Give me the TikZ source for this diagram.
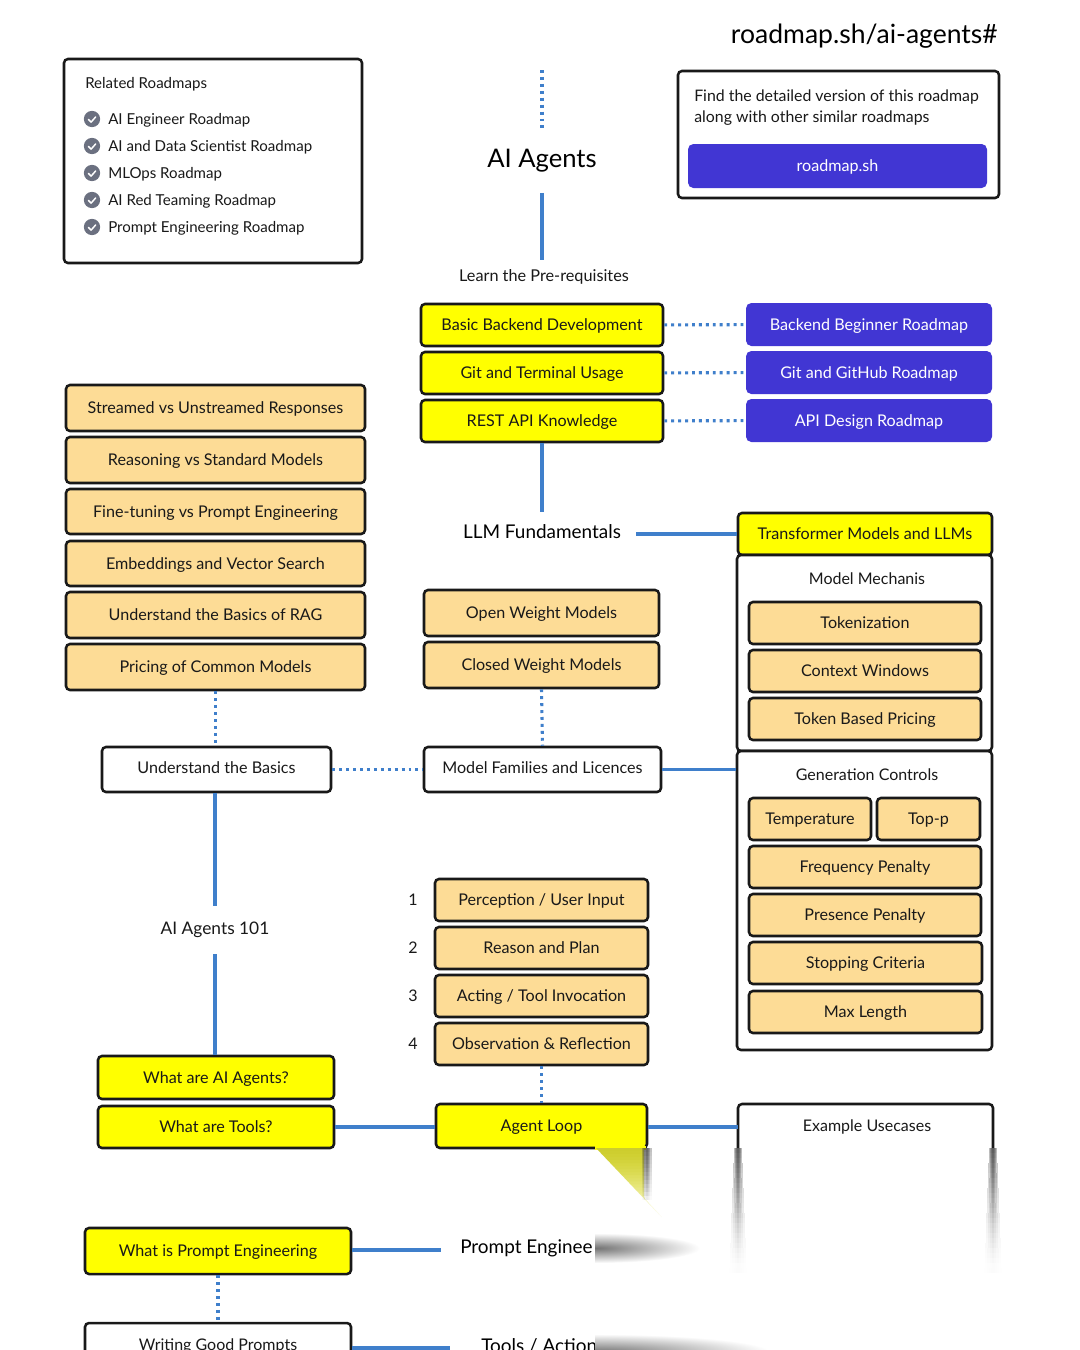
\documentclass[tikz,border=0pt]{standalone}
\usepackage{fontspec}
\usetikzlibrary{calc}
\setmainfont{Lato}
\definecolor{ylw}{HTML}{FFFF00}
\definecolor{ora}{HTML}{FDDC96}
\definecolor{pur}{HTML}{4136D3}
\definecolor{lnk}{HTML}{3F7FCB}
\definecolor{chk}{HTML}{6B7080}
\tikzset{x=0.75pt,y=-0.75pt,
  bx/.style={draw=black!90,line width=1.9pt,rounded corners=3pt,align=center,inner sep=0pt,font=\fontsize{12.1pt}{14pt}\selectfont,text=black!90},
  yb/.style={bx,fill=ylw},
  ob/.style={bx,fill=ora},
  wb/.style={bx,fill=white},
  pb/.style={rounded corners=4pt,fill=pur,text=white,inner sep=0pt,font=\fontsize{12.1pt}{14pt}\selectfont},
  solidl/.style={draw=lnk,line width=2.3pt},
  dotl/.style={draw=lnk,line width=2.3pt,dash pattern=on 2.2pt off 3pt},
  plain/.style={font=\fontsize{12pt}{14pt}\selectfont,text=black!90,inner sep=0pt},
  bigt/.style={font=\fontsize{14.2pt}{16pt}\selectfont,text=black,inner sep=0pt},
  hugeT/.style={font=\fontsize{19.9pt}{22pt}\selectfont,text=black,inner sep=0pt},
  itemt/.style={plain,font=\fontsize{11.3pt}{14pt}\selectfont,anchor=west},
  ticki/.style={circle,fill=chk,minimum size=12.2pt,inner sep=0pt},
}
\newcommand{\rb}[7]{% style,name,x1,y1,x2,y2,text
  \pgfmathsetmacro{\wpx}{(#5-#3)*0.75}\pgfmathsetmacro{\hpx}{(#6-#4)*0.75}
  \node[#1,minimum width=\wpx pt,minimum height=\hpx pt] (#2) at ({(#3+#5)/2},{(#4+#6)/2}) {\raisebox{-0.36em}[0pt][0pt]{#7}};}
\begin{document}
\begin{tikzpicture}
\useasboundingbox[fill=white] (0,0) rectangle (1080,1350);
\clip (0,0) rectangle (1080,1350);
% top right
\node[hugeT,anchor=east] (url) at (998,36) {roadmap.sh/ai-agents\#};
\rb{wb}{relbox}{64}{59}{362}{263}{}
\node[itemt] (rel) at (85,84) {Related Roadmaps};
\foreach \n/\yy/\t in {a/119/AI Engineer Roadmap,b/146/AI and Data Scientist Roadmap,c/173/MLOps Roadmap,d/200/AI Red Teaming Roadmap,e/227/Prompt Engineering Roadmap}{
  \node[ticki] (i\n) at (92,\yy) {};
  \draw[white,line width=1.1pt,line cap=round,line join=round] ($(i\n.center)+(-3.5,0.5)$) -- ++(2.6,2.6) -- ++(4.6,-5.2);
  \node[itemt] (t\n) at (108,\yy+1) {\t};
}
\rb{wb}{findbox}{678}{71}{999}{198}{}
\node[plain,anchor=west,align=left,font=\fontsize{11.9pt}{14pt}\selectfont] (find) at (694,107.5) {Find the detailed version of this roadmap\\[2.2pt]along with other similar roadmaps};
\rb{pb}{btn}{688}{144}{987}{188}{roadmap.sh}
% title
\coordinate (topdot) at (542,70);
\node[hugeT,font=\fontsize{19.2pt}{22pt}\selectfont,minimum height=48pt,minimum width=120pt] (title) at (542,160.5) {AI Agents};
\node[plain,font=\fontsize{12.2pt}{14pt}\selectfont,minimum width=170pt,minimum height=25pt] (pre) at (544,277) {Learn the Pre-requisites};
\rb{yb}{bbd}{421}{304}{663}{346}{Basic Backend Development}
\rb{yb}{git}{421}{352}{663}{394}{Git and Terminal Usage}
\rb{yb}{rest}{421}{400}{663}{442}{REST API Knowledge}
\rb{pb}{bbr}{746}{303}{992}{346}{Backend Beginner Roadmap}
\rb{pb}{ggr}{746}{351}{992}{394}{Git and GitHub Roadmap}
\rb{pb}{adr}{746}{399}{992}{442}{API Design Roadmap}
% LLM
\node[bigt,minimum width=141pt,minimum height=30pt] (llm) at (542,532) {LLM Fundamentals};
\rb{yb}{trans}{738}{513}{992}{555}{Transformer Models and LLMs}
% left list
\rb{ob}{l1}{66}{385}{365}{431}{Streamed vs Unstreamed Responses}
\rb{ob}{l2}{66}{437}{365}{483}{Reasoning vs Standard Models}
\rb{ob}{l3}{66}{489}{365}{534}{Fine-tuning vs Prompt Engineering}
\rb{ob}{l4}{66}{541}{365}{586}{Embeddings and Vector Search}
\rb{ob}{l5}{66}{592}{365}{638}{Understand the Basics of RAG}
\rb{ob}{l6}{66}{644}{365}{690}{Pricing of Common Models}
\rb{ob}{open}{424}{590}{659}{636}{Open Weight Models}
\rb{ob}{closed}{424}{642}{659}{688}{Closed Weight Models}
% right groups
\rb{wb}{mm}{737}{555}{992}{751}{}
\node[plain] (mmt) at (867,579) {Model Mechanis};
\rb{ob}{tok}{749}{602}{981}{644}{Tokenization}
\rb{ob}{ctx}{749}{650}{981}{692}{Context Windows}
\rb{ob}{tbp}{749}{698}{981}{740}{Token Based Pricing}
\rb{wb}{gc}{737}{751}{992}{1050}{}
\node[plain] (gct) at (867,775) {Generation Controls};
\rb{ob}{temp}{749}{798}{871}{840}{Temperature}
\rb{ob}{topp}{877}{798}{980}{840}{Top-p}
\rb{ob}{freq}{749}{846}{981}{888}{Frequency Penalty}
\rb{ob}{pres}{749}{894}{981}{936}{Presence Penalty}
\rb{ob}{stop}{749}{942}{982}{984}{Stopping Criteria}
\rb{ob}{maxl}{749}{991}{982}{1033}{Max Length}
% middle row
\rb{wb}{basics}{102}{747}{331}{792}{\raisebox{1.5pt}{Understand the Basics}}
\rb{wb}{fam}{424}{747}{661}{792}{\raisebox{1.5pt}{Model Families and Licences}}
% loop
\rb{ob}{perc}{435}{879}{648}{921}{Perception / User Input}
\rb{ob}{reas}{435}{927}{648}{969}{Reason and Plan}
\rb{ob}{act}{435}{975}{648}{1017}{Acting / Tool Invocation}
\rb{ob}{obs}{435}{1023}{648}{1065}{Observation \& Reflection}
\foreach \n/\yy in {1/900,2/948,3/996,4/1044}{\node[plain] (num\n) at (413,\yy) {\n};}
\node[plain,font=\fontsize{13pt}{16pt}\selectfont,minimum width=120pt,minimum height=36pt] (a101) at (215,930) {AI Agents 101};
\rb{yb}{what}{98}{1056}{334}{1099}{What are AI Agents?}
\rb{yb}{tools}{98}{1106}{334}{1148}{What are Tools?}
\rb{yb}{loop}{436}{1104}{647}{1148}{Agent Loop}
% example usecases (fades out)
\coordinate (exw) at (738,1127);
\node[plain] (ex) at (867,1127) {Example Usecases};
\draw[draw=black!90,line width=1.9pt,rounded corners=3pt] (738,1148) -- (738,1104) -- (993,1104) -- (993,1148);
\rb{yb}{wpe}{85}{1228}{351}{1274}{What is Prompt Engineering}
\node[bigt,anchor=west,inner sep=0pt] (pe) at (460,1248) {Prompt Enginee};
\node[bigt,anchor=west] (ta) at (481,1346) {Tools / Action};
% erased lower part of the picture, with its soft edges
\fill[white] (595,1149) rectangle (1080,1350);
\fill[ylw] (595,1146) rectangle (645.5,1150);
\foreach \i in {0,...,25}{
  \pgfmathsetmacro{\t}{\i/26}
  \pgfmathsetmacro{\op}{(1-\t)*(1-\t)*0.9}
  \pgfmathsetmacro{\yy}{1148+\i*5}
  \foreach \k in {1.5,3.5,6,8.5}{
    \pgfmathsetmacro{\wid}{\k*(0.7+0.9*\t)}
    \draw[black!75,line width=\wid pt,opacity=\op/2.5,line cap=butt] (738,\yy) -- (738,\yy+5);
    \draw[black!75,line width=\wid pt,opacity=\op/2.5,line cap=butt] (993,\yy) -- (993,\yy+5);
  }
}
\foreach \i in {0,...,22}{
  \pgfmathsetmacro{\t}{\i/23}
  \pgfmathsetmacro{\op}{1-\t*\t}
  \pgfmathsetmacro{\ya}{1148+\i*3}
  \pgfmathsetmacro{\xa}{596+\i*3*0.95}
  \pgfmathsetmacro{\gr}{205+30*\t}
  \pgfmathsetmacro{\bl}{45+50*\t}
  \definecolor{stripc}{RGB}{\gr,\gr,\bl}
  \fill[stripc,opacity=\op] (\xa,\ya) -- ({max(644,\xa+0.5)},\ya) -- ({max(644,\xa+3.35)},\ya+3) -- (\xa+2.85,\ya+3) -- cycle;
}
\foreach \i in {0,...,12}{
  \pgfmathsetmacro{\t}{\i/13}
  \pgfmathsetmacro{\op}{(1-\t)*0.9}
  \pgfmathsetmacro{\yy}{1148+\i*4}
  \foreach \k in {1.5,3.5,5.5,7.5}{
    \draw[black!75,line width=\k pt,opacity=\op/2.8,line cap=butt] (646.5,\yy) -- (646.5,\yy+4);
  }
}
\begin{scope}
\clip (595,1232) rectangle (705,1266);
\shade[inner color=black!55,outer color=white] (595,1248) ellipse [x radius=105,y radius=15];
\end{scope}
\begin{scope}
\clip (595,1330) rectangle (780,1350);
\shade[inner color=black!55,outer color=white] (595,1352) ellipse [x radius=175,y radius=18];
\end{scope}
\rb{wb}{wgp}{85}{1323}{351}{1378}{}
\node[plain] (wgpt) at (218,1346) {Writing Good Prompts};
% connectors
\coordinate (peL) at (441,1250);
\coordinate (taL) at (450,1348);
\draw[dotl] (topdot) -- (title.north);
\draw[solidl] (title.south) -- (pre.north -| title.south);
\draw[dotl] (bbd) -- (bbr);
\draw[dotl] (git) -- (ggr);
\draw[dotl] (rest) -- (adr);
\draw[solidl] (rest.south -| llm) -- (llm.north);
\draw[solidl] (llm.east |- trans) -- (trans.west);
\draw[dotl] (l6.south) -- (l6.south |- basics.north);
\draw[dotl] (basics) -- (fam);
\draw[dotl] (closed.south) -- (fam.north);
\draw[solidl] (fam.east) -- (gc.west |- fam.east);
\draw[solidl] (basics.south -| a101) -- (a101.north);
\draw[solidl] (a101.south) -- (what.north -| a101);
\draw[dotl] (obs.south) -- (loop.north);
\draw[solidl] (tools.east) -- (loop.west |- tools.east);
\draw[solidl] (loop.east |- exw) -- (exw);
\draw[solidl] (wpe.east |- peL) -- (peL);
\draw[dotl] (wpe.south -| wgpt) -- (wgp.north -| wgpt);
\draw[solidl] (wgp.east |- taL) -- (taL);
\end{tikzpicture}
\end{document}
